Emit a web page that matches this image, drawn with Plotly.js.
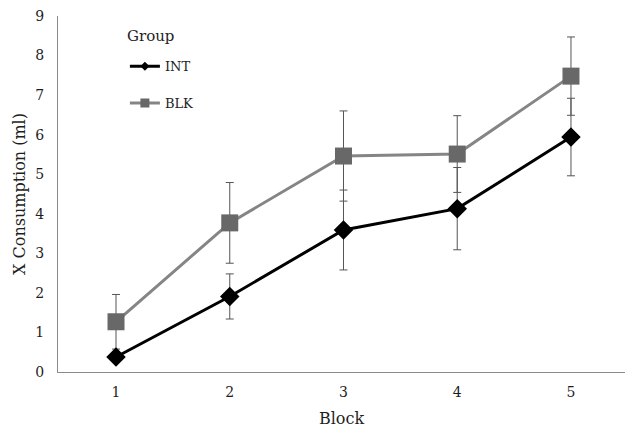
<!DOCTYPE html>
<html>
<head>
<meta charset="utf-8">
<script src="https://cdn.plot.ly/plotly-3.0.1.min.js"></script>
<style>html,body{margin:0;padding:0;background:#fff;}#chart{width:625px;height:428px;}</style>
</head>
<body>
<div id="chart"></div>
<script>
const blocks = [1, 2, 3, 4, 5];
const intMeans = [0.38, 1.91, 3.59, 4.13, 5.94];
const intErr = [0.12, 0.57, 1.01, 1.04, 0.98];
const blkMeans = [1.27, 3.77, 5.46, 5.51, 7.48];
const blkErr = [0.69, 1.02, 1.14, 0.97, 0.99];
const yTicks = [0, 1, 2, 3, 4, 5, 6, 7, 8, 9];
const legendTitle = 'Group';

const FONT = "DejaVu Serif, Liberation Serif, serif";
const TXT = '#1e1e1e';

const traces = [
  {
    x: blocks, y: blkMeans, name: 'BLK', type: 'scatter', mode: 'lines+markers',
    showlegend: false,
    line: {color: '#858585', width: 3},
    marker: {symbol: 'square', size: 17, color: '#686868'},
    error_y: {type: 'data', array: blkErr, visible: true, color: '#555555', thickness: 1, width: 4}
  },
  {
    x: blocks, y: intMeans, name: 'INT', type: 'scatter', mode: 'lines+markers',
    showlegend: false,
    line: {color: '#000000', width: 3},
    marker: {symbol: 'diamond', size: 15, color: '#000000'},
    error_y: {type: 'data', array: intErr, visible: true, color: '#555555', thickness: 1, width: 4}
  },
  // legend entries (small markers as in the reference legend)
  {
    x: [null], y: [null], name: 'INT', type: 'scatter', mode: 'lines+markers',
    legendgroup: 'a', legendrank: 1,
    line: {color: '#000000', width: 3},
    marker: {symbol: 'diamond', size: 7, color: '#000000'}
  },
  {
    x: [null], y: [null], name: 'BLK', type: 'scatter', mode: 'lines+markers',
    legendgroup: 'b', legendrank: 2,
    line: {color: '#858585', width: 3},
    marker: {symbol: 'square', size: 9, color: '#686868'}
  }
];

const layout = {
  width: 625, height: 428,
  margin: {l: 58, r: 0, t: 16, b: 56},
  paper_bgcolor: '#ffffff', plot_bgcolor: '#ffffff',
  font: {family: FONT, size: 14, color: TXT},
  showlegend: true,
  legend: {
    x: 0.118, y: 0.901, xanchor: 'left', yanchor: 'top',
    font: {size: 13, family: FONT, color: TXT},
    tracegroupgap: 17, bgcolor: 'rgba(0,0,0,0)', itemwidth: 30
  },
  annotations: [{
    text: legendTitle, xref: 'paper', yref: 'paper', x: 0.119, y: 0.943,
    xanchor: 'left', yanchor: 'middle', showarrow: false,
    font: {size: 15, family: FONT, color: TXT}
  }],
  xaxis: {
    range: [0.49, 5.475], tickvals: blocks, ticktext: blocks.map(String),
    showgrid: false, zeroline: false, showline: true, linecolor: '#8a8a8a', linewidth: 1,
    ticks: '', ticklabelstandoff: 7, tickfont: {size: 14, family: FONT, color: TXT},
    title: {text: 'Block', font: {size: 16, family: FONT, color: TXT}, standoff: 14}
  },
  yaxis: {
    range: [0, 9], tickvals: yTicks, ticktext: yTicks.map(String),
    showgrid: false, zeroline: false, showline: true, linecolor: '#8a8a8a', linewidth: 1,
    ticks: '', ticklabelstandoff: 10, tickfont: {size: 14, family: FONT, color: TXT},
    title: {text: 'X Consumption (ml)', font: {size: 16, family: FONT, color: TXT}, standoff: 5}
  }
};

Plotly.newPlot('chart', traces, layout, {displayModeBar: false, staticPlot: true});
</script>
</body>
</html>
